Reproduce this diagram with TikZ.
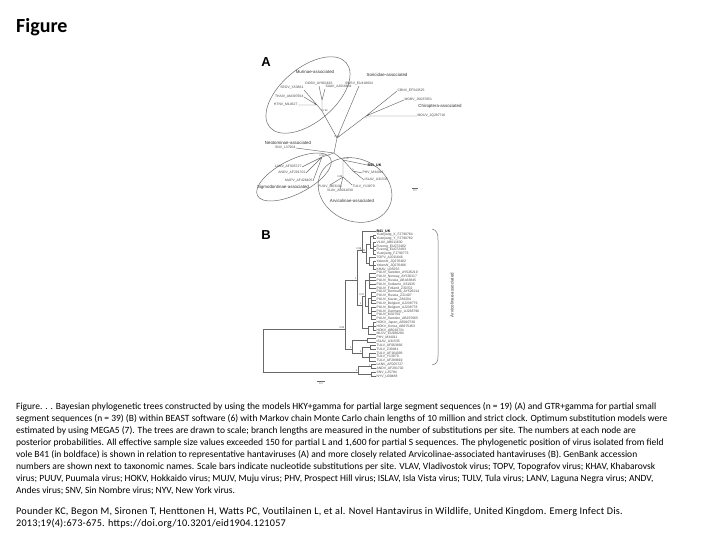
\documentclass[tikz,border=0pt]{standalone}
\usepackage{fontspec}
\setmainfont{Carlito}
\setsansfont{Liberation Sans}
\usetikzlibrary{calc}
\definecolor{treeline}{RGB}{105,105,105}
\definecolor{treetext}{RGB}{75,75,75}
\definecolor{ringline}{RGB}{110,110,110}
\tikzset{
  br/.style   ={draw=treeline, line width=0.45pt},
  ring/.style ={draw=ringline, line width=0.5pt},
  tipl/.style ={font=\sffamily\fontsize{3.4}{4}\selectfont, text=treetext, inner sep=0.4pt},
  tipb/.style ={font=\sffamily\bfseries\fontsize{3.6}{4}\selectfont, text=black, inner sep=0.4pt},
  ppl/.style  ={font=\sffamily\fontsize{2.6}{3}\selectfont, text=treetext, inner sep=0.4pt},
  grpl/.style ={font=\sffamily\fontsize{4.4}{5}\selectfont, text=black!80, inner sep=0.5pt},
  panl/.style ={font=\sffamily\bfseries\fontsize{13}{14}\selectfont, inner sep=0pt},
  capl/.style ={font=\fontsize{9.5}{11}\selectfont, anchor=base west, inner sep=0pt},
  refl/.style ={font=\fontsize{10.2}{12}\selectfont\addfontfeature{LetterSpace=2.2}, anchor=base west, inner sep=0pt},
}

\begin{document}
\begin{tikzpicture}[x=1pt,y=-1pt]
  \useasboundingbox (0,0) rectangle (720,540);
  \fill[white] (0,0) rectangle (720,540);
  \node[anchor=west, font=\bfseries\fontsize{20}{22}\selectfont, inner sep=0pt] (title) at (16,27) {Figure};
  % panel A: unrooted tree
  \begin{scope}
  \node[panl] (labA) at (266,62) {A};
  \draw[ring,rotate around={40:(308,95)}] (308,95) ellipse [x radius=50, y radius=27];
  \draw[ring,rotate around={27:(294,177)}] (294,177) ellipse [x radius=41, y radius=17];
  \draw[ring,rotate around={-25:(355,190)}] (355,190) ellipse [x radius=38, y radius=31];
  \coordinate (a0) at (334,153);
  \coordinate (a1) at (337,138);
  \coordinate (amu) at (322,111);
  \coordinate (amua) at (317,105);
  \coordinate (amub) at (322,100);
  \coordinate (ach) at (366,116);
  \coordinate (asg) at (322,157);
  \coordinate (aav) at (343,160);
  \coordinate (aavb) at (353,171);
  \coordinate (aavc) at (343,177);
  \node[tipl,anchor=south] (mu1) at (319,86) {DOBV\_AY961615};
  \node[tipl,anchor=south west] (mu2) at (325,89) {SAAV\_AJ616854};
  \node[tipl,anchor=south east] (mu3) at (304,90) {SEOV\_X53861};
  \node[tipl,anchor=east] (mu4) at (304,97) {THAIV\_AM397664};
  \node[tipl,anchor=east] (mu5) at (298,105) {HTNV\_M14627};
  \node[tipl,anchor=south] (so1) at (359,86) {SWSV\_EU418604};
  \node[tipl,anchor=west] (ch1) at (397,91) {CBNV\_EF543525};
  \node[tipl,anchor=west] (ch2) at (404,100) {MGBV\_JN037851};
  \node[tipl,anchor=west] (ch3) at (417,116) {MOUV\_JQ287716};
  \node[tipl,anchor=east] (ne1) at (296,148) {SNV\_L37904};
  \node[tipl,anchor=east] (sg1) at (302,167) {LANV\_AF005727};
  \node[tipl,anchor=east] (sg2) at (306,173) {ANDV\_AF291702};
  \node[tipl,anchor=east] (sg3) at (313,181) {MAPV\_AF426405};
  \node[tipb,anchor=west] (av1) at (367,165) {B41\_UK};
  \node[tipl,anchor=west] (av2) at (362,173) {PHV\_M34011};
  \node[tipl,anchor=west] (av3) at (364,180) {ISLAV\_U31535};
  \node[tipl,anchor=north] (av4) at (330,185) {PUUV\_M63194};
  \node[tipl,anchor=north] (av5) at (340,189) {VLAV\_AB011630};
  \node[tipl,anchor=north west] (av6) at (352,185) {TULV\_Y13979};
  \draw[br] (a0) -- (a1) (a1) -- (amu) (a1) -- (so1.south) (a1) -- (ach);
  \draw[br] (amu) -- (amua) (amu) -- (amub);
  \draw[br] (amub) -- (mu1.south) (amub) -- (mu2.south west);
  \draw[br] (amua) -- (mu3.south east) (amua) -- (mu4.east) (amua) -- (mu5.east);
  \draw[br] (ach) -- (ch1.west) (ach) -- (ch2.west) (ach) -- (ch3.west);
  \draw[br] (a0) -- (ne1.east) (a0) -- (asg) (a0) -- (aav);
  \draw[br] (asg) -- (sg1.east) (asg) -- (sg2.east) (asg) -- (sg3.east);
  \draw[br] (aav) -- (av1.west) (aav) -- (aavb) (aav) -- (aavc);
  \draw[br] (aavb) -- (av2.west) (aavb) -- (av3.west);
  \draw[br] (aavc) -- (av4.north) (aavc) -- (av5.north) (aavc) -- (av6.north west);
  \node[ppl,anchor=south] (pa1) at (a1) {0.60};
  \node[ppl,anchor=west] (pamu) at (amu) {0.94};
  \node[ppl,anchor=east] (pamua) at (amua) {1};
  \node[ppl,anchor=north] (pach) at (ach) {1};
  \node[ppl,anchor=south] (pasg) at (asg) {0.98};
  \node[ppl,anchor=south west] (paav) at (aav) {0.74};
  \node[ppl,anchor=south] (paavb) at (aavb) {1};
  \node[ppl,anchor=east] (paavc) at (aavc) {0.88};
  \node[grpl] (gmu) at (315,72) {Murinae-associated};
  \node[grpl] (gso) at (387,75) {Soricidae-associated};
  \node[grpl] (gch) at (440,106.5) {Chiroptera-associated};
  \node[grpl] (gne) at (288,142.5) {Neotominae-associated};
  \node[grpl] (gsg) at (283,187) {Sigmodontinae-associated};
  \node[grpl] (gav) at (352,201) {Arvicolinae-associated};
  \coordinate (sba1) at (412,188);
  \coordinate (sba2) at (418,188);
  \draw[br] (sba1) -- (sba2);
  \node[ppl,below] (sbal) at (415,189) {0.1};
  \end{scope}
  % panel B: rooted tree
  \begin{scope}
  \node[panl] (labB) at (266,235) {B};
  \coordinate (nR) at (263,350);
  \coordinate (nA) at (345,329);
  \coordinate (nS) at (358,372);
  \coordinate (nM) at (357,280);
  \coordinate (nT) at (352,349.4);
  \coordinate (nV) at (362,250);
  \coordinate (nW) at (366,252);
  \coordinate (nWa) at (370,244);
  \coordinate (nWb) at (373,236.7);
  \coordinate (nWc) at (373,248.2);
  \coordinate (nWd) at (369,263.5);
  \coordinate (nWe) at (373,265.4);
  \coordinate (nPH) at (362,305);
  \coordinate (nPU) at (365,296);
  \coordinate (nPUa) at (369,280.7);
  \coordinate (nPUb) at (368,306);
  \coordinate (nPUc) at (371,298);
  \coordinate (nPUd) at (371,313);
  \coordinate (nHM) at (368,328);
  \coordinate (nHO) at (373,326.5);
  \coordinate (nP) at (367,339.9);
  \coordinate (nTU) at (362,353.2);
  \coordinate (nTUa) at (370,347.5);
  \coordinate (nTUb) at (369,357.1);
  \coordinate (nLA) at (371,366.6);
  \coordinate (nSN) at (371,374.3);
  \node[tipb,anchor=west] (b0) at (376,231.0) {B41\_UK};
  \node[tipl,anchor=west] (b1) at (376,234.8) {Yuanjiang\_X\_FJ790784};
  \node[tipl,anchor=west] (b2) at (376,238.6) {Yuanjiang\_Y\_FJ790782};
  \node[tipl,anchor=west] (b3) at (376,242.5) {VLAV\_AB011630};
  \node[tipl,anchor=west] (b4) at (376,246.3) {Fusong\_EU072482};
  \node[tipl,anchor=west] (b5) at (376,250.1) {Fusong\_EU072483};
  \node[tipl,anchor=west] (b6) at (376,253.9) {Yuanjiang\_FJ790773};
  \node[tipl,anchor=west] (b7) at (376,257.7) {TOPV\_AJ011646};
  \node[tipl,anchor=west] (b8) at (376,261.6) {Yakeshi\_JQ276482};
  \node[tipl,anchor=west] (b9) at (376,265.4) {Yakeshi\_JQ276486};
  \node[tipl,anchor=west] (b10) at (376,269.2) {KHAV\_U35255};
  \node[tipl,anchor=west] (b11) at (376,273.0) {PUUV\_Sweden\_AY526219};
  \node[tipl,anchor=west] (b12) at (376,276.8) {PUUV\_Norway\_AY526217};
  \node[tipl,anchor=west] (b13) at (376,280.7) {PUUV\_Russia\_AB433845};
  \node[tipl,anchor=west] (b14) at (376,284.5) {PUUV\_Sotkamo\_X61035};
  \node[tipl,anchor=west] (b15) at (376,288.3) {PUUV\_Finland\_Z30702};
  \node[tipl,anchor=west] (b16) at (376,292.1) {PUUV\_Denmark\_AY526214};
  \node[tipl,anchor=west] (b17) at (376,295.9) {PUUV\_Russia\_Z21497};
  \node[tipl,anchor=west] (b18) at (376,299.8) {PUUV\_Kazan\_Z84204};
  \node[tipl,anchor=west] (b19) at (376,303.6) {PUUV\_Belgium\_AJ238779};
  \node[tipl,anchor=west] (b20) at (376,307.4) {PUUV\_Belgium\_AJ238778};
  \node[tipl,anchor=west] (b21) at (376,311.2) {PUUV\_Germany\_AJ238790};
  \node[tipl,anchor=west] (b22) at (376,315.0) {PUUV\_M32750};
  \node[tipl,anchor=west] (b23) at (376,318.9) {PUUV\_Sweden\_AB297665};
  \node[tipl,anchor=west] (b24) at (376,322.7) {HOKV\_Japan\_AB010730};
  \node[tipl,anchor=west] (b25) at (376,326.5) {HOKV\_Korea\_AB675463};
  \node[tipl,anchor=west] (b26) at (376,330.3) {HOKV\_AB010731};
  \node[tipl,anchor=west] (b27) at (376,334.1) {MUJV\_EU386284};
  \node[tipl,anchor=west] (b28) at (376,338.0) {PHV\_M34011};
  \node[tipl,anchor=west] (b29) at (376,341.8) {ISLAV\_U31535};
  \node[tipl,anchor=west] (b30) at (376,345.6) {TULV\_AF063892};
  \node[tipl,anchor=west] (b31) at (376,349.4) {TULV\_Z30941};
  \node[tipl,anchor=west] (b32) at (376,353.2) {TULV\_AF164093};
  \node[tipl,anchor=west] (b33) at (376,357.1) {TULV\_Y13979};
  \node[tipl,anchor=west] (b34) at (376,360.9) {TULV\_AF289819};
  \node[tipl,anchor=west] (b35) at (376,364.7) {LANV\_AF005727};
  \node[tipl,anchor=west] (b36) at (376,368.5) {ANDV\_AF291702};
  \node[tipl,anchor=west] (b37) at (376,372.3) {SNV\_L25784};
  \node[tipl,anchor=west] (b38) at (376,376.2) {NYV\_U09488};
  \draw[br] (nR) |- (nA) (nR) |- (nS);
  \draw[br] (nA) |- (nM) (nA) |- (nT);
  \draw[br] (nM) |- (nV) (nM) |- (nPH);
  \draw[br] (nV) |- (b0.west) (nV) |- (nW);
  \draw[br] (nW) |- (nWa) (nW) |- (nWd);
  \draw[br] (nWa) |- (nWb) (nWa) |- (nWc);
  \draw[br] (nWb) |- (b1.west) (nWb) |- (b2.west);
  \draw[br] (nWc) |- (b3.west) (nWc) |- (b4.west) (nWc) |- (b5.west) (nWc) |- (b6.west);
  \draw[br] (nWd) |- (b7.west) (nWd) |- (nWe);
  \draw[br] (nWe) |- (b8.west) (nWe) |- (b9.west) (nWe) |- (b10.west);
  \draw[br] (nPH) |- (nPU) (nPH) |- (nHM);
  \draw[br] (nPU) |- (nPUa) (nPU) |- (nPUb);
  \draw[br] (nPUa) |- (b11.west) (nPUa) |- (b12.west) (nPUa) |- (b13.west) (nPUa) |- (b14.west) (nPUa) |- (b15.west);
  \draw[br] (nPUb) |- (nPUc) (nPUb) |- (nPUd);
  \draw[br] (nPUc) |- (b16.west) (nPUc) |- (b17.west) (nPUc) |- (b18.west) (nPUc) |- (b19.west);
  \draw[br] (nPUd) |- (b20.west) (nPUd) |- (b21.west) (nPUd) |- (b22.west) (nPUd) |- (b23.west);
  \draw[br] (nHM) |- (nHO) (nHM) |- (b27.west);
  \draw[br] (nHO) |- (b24.west) (nHO) |- (b25.west) (nHO) |- (b26.west);
  \draw[br] (nT) |- (nP) (nT) |- (nTU);
  \draw[br] (nP) |- (b28.west) (nP) |- (b29.west);
  \draw[br] (nTU) |- (nTUa) (nTU) |- (nTUb);
  \draw[br] (nTUa) |- (b30.west) (nTUa) |- (b31.west);
  \draw[br] (nTUb) |- (b32.west) (nTUb) |- (b33.west) (nTUb) |- (b34.west);
  \draw[br] (nS) |- (nLA) (nS) |- (nSN);
  \draw[br] (nLA) |- (b35.west) (nLA) |- (b36.west);
  \draw[br] (nSN) |- (b37.west) (nSN) |- (b38.west);
  \node[ppl,anchor=south east] (pA) at (nA) {0.85};
  \node[ppl,anchor=south east] (pM) at (nM) {1};
  \node[ppl,anchor=south east] (pV) at (nV) {0.99};
  \node[ppl,anchor=south east] (pW) at (nW) {0.81};
  \node[ppl,anchor=south east] (pPH) at (nPH) {1};
  \node[ppl,anchor=south east] (pPU) at (nPU) {0.97};
  \node[ppl,anchor=south east] (pT) at (nT) {1};
  \node[ppl,anchor=south east] (pTU) at (nTU) {1};
  \node[ppl,anchor=south east] (pS) at (nS) {1};
  \node[ppl,anchor=south east] (pLA) at (nLA) {1};
  \draw[ring] (432,229) .. controls (437,230) and (438,234) .. (438,240) -- (438,356) .. controls (438,361) and (437,364) .. (432,365);
  \node[grpl,rotate=90] (gavB) at (452,295) {Arvicolinae-associated};
  \coordinate (sbb1) at (317,381.5);
  \coordinate (sbb2) at (325,381.5);
  \draw[br] (sbb1) -- (sbb2);
  \node[ppl,below] (sbbl) at (321,382.5) {0.1};
  \end{scope}
  % caption
  \node[capl] (l1) at (16,409.5) {Figure. . . Bayesian phylogenetic trees constructed by using the models HKY+gamma for partial large segment sequences (n = 19) (A) and GTR+gamma for partial small};
  \node[capl] (l2) at (16,421.5) {segment sequences (n = 39) (B) within BEAST software (6) with Markov chain Monte Carlo chain lengths of 10 million and strict clock. Optimum substitution models were};
  \node[capl] (l3) at (16,433.5) {estimated by using MEGA5 (7). The trees are drawn to scale; branch lengths are measured in the number of substitutions per site. The numbers at each node are};
  \node[capl] (l4) at (16,445.5) {posterior probabilities. All effective sample size values exceeded 150 for partial L and 1,600 for partial S sequences. The phylogenetic position of virus isolated from field};
  \node[capl] (l5) at (16,457.5) {vole B41 (in boldface) is shown in relation to representative hantaviruses (A) and more closely related Arvicolinae-associated hantaviruses (B). GenBank accession};
  \node[capl] (l6) at (16,469.5) {numbers are shown next to taxonomic names. Scale bars indicate nucleotide substitutions per site. VLAV, Vladivostok virus; TOPV, Topografov virus; KHAV, Khabarovsk};
  \node[capl] (l7) at (16,481.5) {virus; PUUV, Puumala virus; HOKV, Hokkaido virus; MUJV, Muju virus; PHV, Prospect Hill virus; ISLAV, Isla Vista virus; TULV, Tula virus; LANV, Laguna Negra virus; ANDV,};
  \node[capl] (l8) at (16,493.5) {Andes virus; SNV, Sin Nombre virus; NYV, New York virus.};
  \node[refl] (l9) at (16,514.5) {Pounder KC, Begon M, Sironen T, Henttonen H, Watts PC, Voutilainen L, et al. Novel Hantavirus in Wildlife, United Kingdom. Emerg Infect Dis.};
  \node[refl] (l10) at (16,526.5) {2013;19(4):673-675. https://doi.org/10.3201/eid1904.121057};
\end{tikzpicture}
\end{document}
